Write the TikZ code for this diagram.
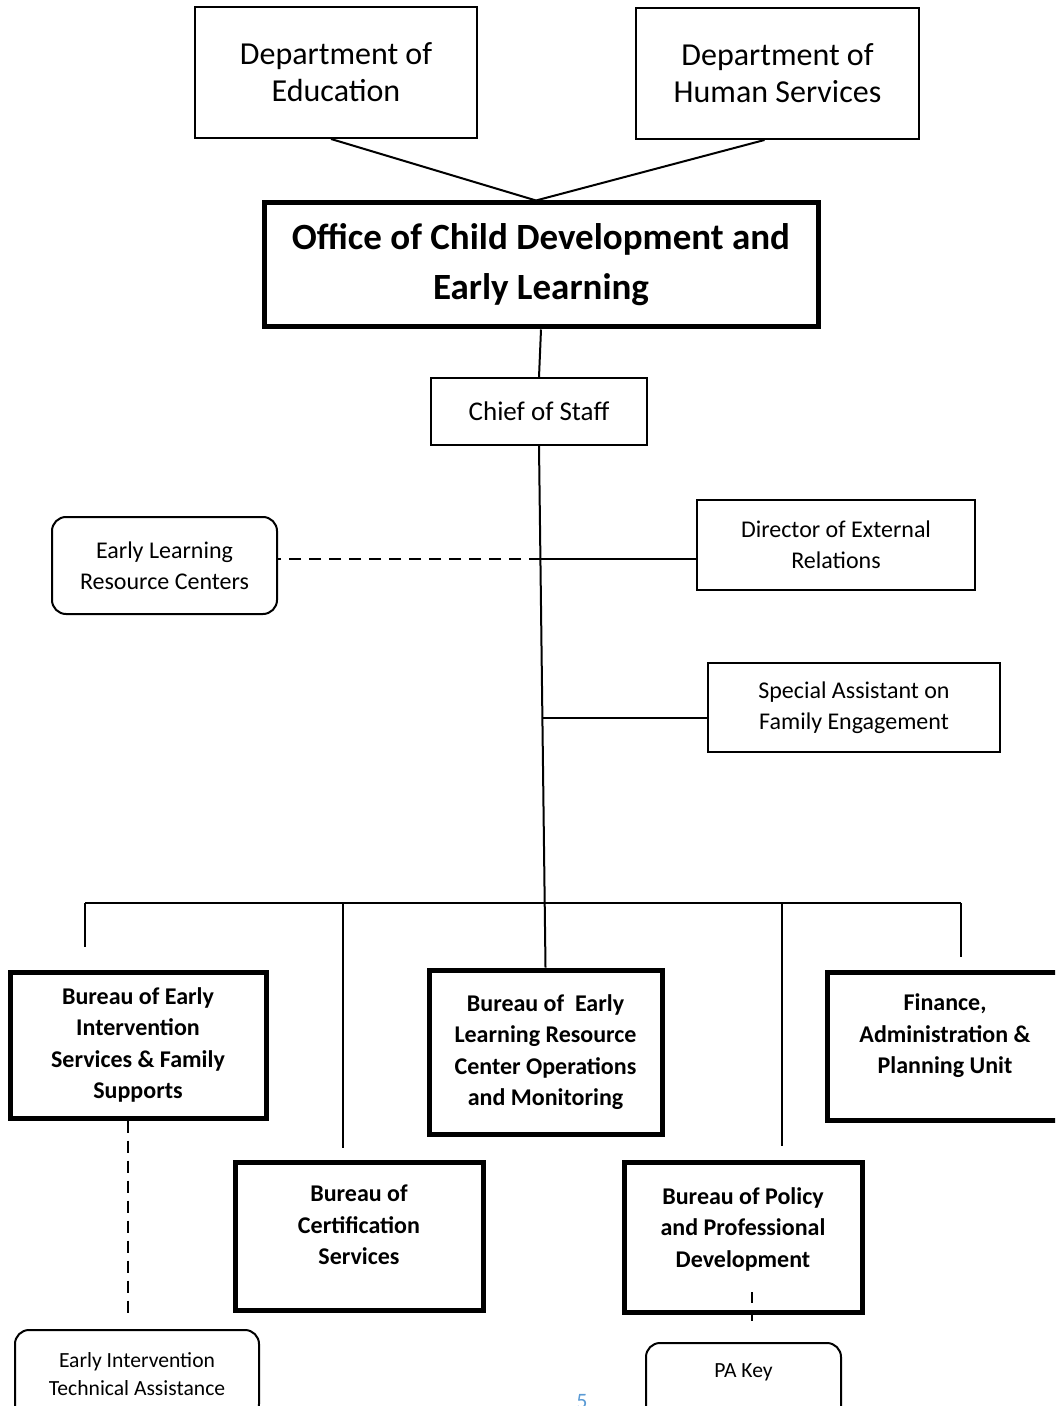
\documentclass[tikz,border=0pt]{standalone}
\usepackage{fontspec}
\setmainfont{Carlito}
\usetikzlibrary{positioning}
\definecolor{pagenum}{HTML}{5B9BD5}
\tikzstyle{box} = [draw, line width=1pt, align=center, inner sep=1pt]
\tikzstyle{softbox} = [draw, line width=1pt, rounded corners=7pt, align=center, inner sep=1pt]
\tikzstyle{bureau} = [draw, line width=2.5pt, align=center, inner sep=1pt, font=\fontsize{12}{15.75}\selectfont\bfseries]
\tikzstyle{link} = [draw, line width=1pt]
\tikzstyle{dashlink} = [draw, line width=1.2pt, dash pattern=on 6pt off 4pt]
\newcommand{\deptfont}{\fontsize{16}{18.5}\selectfont}
\newcommand{\staffont}{\fontsize{12}{15.5}\selectfont}
\newcommand{\keyfont}{\fontsize{10.8}{14}\selectfont}
\newcommand{\lift}[1]{\rule[-#1]{0pt}{0pt}}

\begin{document}
\begin{tikzpicture}[x=0.5pt, y=-0.5pt]

	\useasboundingbox (0,0) rectangle (1055,1406);
	\clip (0,0) rectangle (1055,1406);

	\node[box, minimum width=141pt, minimum height=65.5pt, font=\deptfont] (doe) at (336,72.5) {Department of\\Education};
	\node[box, minimum width=141.5pt, minimum height=65.5pt, font=\deptfont] (dhs) at (777.5,73.5) {Department of\\Human Services};
	\node[draw, line width=2.5pt, align=center, minimum width=277pt, minimum height=62pt, font=\fontsize{18.5}{25}\selectfont\bfseries] (ocdel) at (541,265) {Office of Child Development and\\Early Learning};
	\node[box, minimum width=108pt, minimum height=33.5pt, font=\fontsize{13.5}{15}\selectfont] (cos) at (539,411.5) {Chief of Staff};

	\node[softbox, minimum width=112.5pt, minimum height=48.5pt, font=\staffont] (elrc) at (164.5,565.5) {Early Learning\\Resource Centers};
	\node[box, minimum width=139pt, minimum height=45pt, font=\staffont] (der) at (836,545) {Director of External\\Relations};
	\node[box, minimum width=146pt, minimum height=44.5pt, font=\staffont] (sa) at (854,707.5) {Special Assistant on\\Family Engagement};

	\node[bureau, minimum width=128pt, minimum height=73pt] (eib) at (138,1045) {Bureau of Early\\Intervention\\Services \& Family\\Supports};
	\node[bureau, minimum width=116.5pt, minimum height=82pt] (ops) at (545.5,1052) {Bureau of\ \ Early\\Learning Resource\\Center Operations\\and Monitoring};
	\node[bureau, minimum width=118pt, minimum height=74pt] (fin) at (945,1046) {Finance,\\Administration \&\\Planning Unit\lift{12pt}};
	\node[bureau, minimum width=124pt, minimum height=74pt] (cert) at (359,1236) {Bureau of\\Certification\\Services\lift{11pt}};
	\node[bureau, minimum width=119pt, minimum height=75pt] (pol) at (743,1237) {Bureau of Policy\\and Professional\\Development\lift{9.5pt}};

	\node[softbox, minimum width=122pt, minimum height=44pt, font=\keyfont] (eita) at (137,1374) {Early Intervention\\Technical Assistance};
	\node[softbox, minimum width=97.5pt, minimum height=38.5pt, font=\keyfont] (pakey) at (743.5,1381.5) {PA Key\lift{10.5pt}};
	\node[text=pagenum, anchor=north, inner sep=0pt, font=\fontsize{11}{13}\selectfont] (page) at (582,1394) {5};

	\coordinate (jr) at (541,559);
	\coordinate (js) at (542,718);
	\coordinate (b1) at (85,903);  \coordinate (e1) at (85,947);
	\coordinate (b2) at (343,903); \coordinate (e2) at (343,1148);
	\coordinate (b4) at (782,903); \coordinate (e4) at (782,1146);
	\coordinate (b5) at (961,903); \coordinate (e5) at (961,957);
	\coordinate (t1) at (128,1315);
	\coordinate (p1) at (752,1292); \coordinate (p2) at (752,1321);

	\path[link] ([xshift=-2.5pt]doe.south) -- ([xshift=-2.5pt]ocdel.north);
	\path[link] ([xshift=-6.5pt]dhs.south) -- ([xshift=-2.5pt]ocdel.north);
	\path[link] (ocdel.south) -- (cos.north);
	\path[link] (cos.south) -- (ops.north);

	\path[link] (jr) -- (jr -| der.west);
	\path[dashlink] (jr) -- (jr -| elrc.east);
	\path[link] (js) -- (js -| sa.west);

	\path[link] (b1) -- (b5);
	\path[link] (b1) -- (e1);
	\path[link] (b2) -- (e2);
	\path[link] (b4) -- (e4);
	\path[link] (b5) -- (e5);

	\path[dashlink] (t1 |- eib.south) -- (t1);
	\path[link, dash pattern=on 5.5pt off 5pt] (p1) -- (p2);

\end{tikzpicture}
\end{document}
